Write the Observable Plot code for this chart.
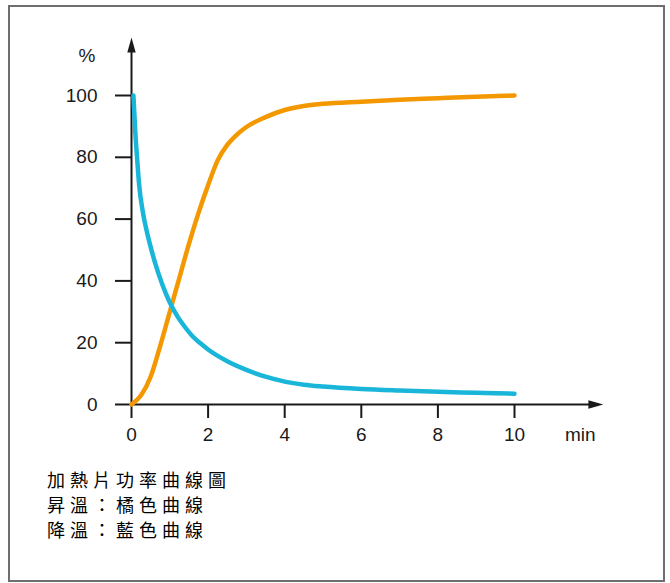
<!DOCTYPE html>
<html>
<head>
<meta charset="utf-8">
<script src="https://cdn.jsdelivr.net/npm/d3@7"></script>
<script src="https://cdn.jsdelivr.net/npm/@observablehq/plot@0.6"></script>
<style>
  html, body { margin: 0; padding: 0; background: #fff; }
  #frame { position: absolute; left: 8px; top: 5px; width: 657px; height: 577px; box-sizing: border-box; border: 2px solid #6e6e6e; }
  #chart { position: absolute; left: 0; top: 0; }
  #caption { position: absolute; left: 47px; top: 466.5px; font-family: "Noto Sans CJK TC", sans-serif; font-size: 18px; letter-spacing: 5px; line-height: 25px; color: #000; }
</style>
</head>
<body>
<div id="frame"></div>
<div id="chart"></div>
<div id="caption"></div>
<script>
// Data
const heatTime  = [0, 0.25, 0.5, 0.75, 1, 1.25, 1.5, 1.75, 2, 2.25, 2.5, 2.75, 3, 3.5, 4, 4.5, 5, 6, 7, 8, 9, 10];
const heatPower = [0, 3, 9, 19, 30, 41, 52, 62, 71, 79, 84, 87.3, 89.8, 93, 95.3, 96.6, 97.3, 98, 98.6, 99.1, 99.6, 100];
const coolTime  = [0.05, 0.1, 0.15, 0.2, 0.3, 0.4, 0.5, 0.6, 0.8, 1.0, 1.2, 1.4, 1.6, 1.8, 2.0, 2.5, 3.0, 3.5, 4.0, 4.5, 5, 6, 7, 8, 9, 10];
const coolPower = [100, 88, 79, 71, 62, 56, 51, 46.5, 39, 33, 28.5, 25, 22, 19.8, 17.8, 14, 11.2, 9.0, 7.4, 6.4, 5.8, 5.0, 4.5, 4.1, 3.8, 3.5];
const xTicks = [0, 2, 4, 6, 8, 10];
const yTicks = [0, 20, 40, 60, 80, 100];
const xAxisEnd = 12.32;
const yAxisEnd = 118.8;
const yUnit = "%";
const xUnit = "min";
const captionLines = ["加熱片功率曲線圖", "昇溫：橘色曲線", "降溫：藍色曲線"];

const orange = "#f39800";
const blue = "#19b6da";
const ink = "#1a1a1a";

const heat = heatTime.map((t, i) => ({t, p: heatPower[i]}));
const cool = coolTime.map((t, i) => ({t, p: coolPower[i]}));

// Narrow filled arrowhead, tip at origin, pointing up
const arrowHead = {
  draw(context) {
    context.moveTo(0, 0);
    context.lineTo(4.2, 15);
    context.lineTo(-4.2, 15);
    context.closePath();
  }
};

const chart = Plot.plot({
  width: 670,
  height: 450,
  marginLeft: 131,
  marginRight: 156,
  marginTop: 95,
  marginBottom: 46,
  style: {fontFamily: "Liberation Sans, Arial, sans-serif", fontSize: "19px", color: ink, background: "transparent", overflow: "visible"},
  x: {domain: [0, 10]},
  y: {domain: [0, 100]},
  marks: [
    Plot.axisX(xTicks, {anchor: "bottom", tickSize: 14, tickPadding: 9, strokeWidth: 2, label: null, tickFormat: d => d}),
    Plot.axisY(yTicks, {anchor: "left", tickSize: 16, tickPadding: 18, strokeWidth: 2, label: null, tickFormat: d => d}),
    Plot.ruleY([0], {x1: 0, x2: xAxisEnd - 0.2, stroke: ink, strokeWidth: 2}),
    Plot.ruleX([0], {y1: 0, y2: yAxisEnd - 2, stroke: ink, strokeWidth: 2}),
    Plot.dot([{x: 0, y: yAxisEnd}], {x: "x", y: "y", symbol: arrowHead, r: 5, fill: ink, stroke: null}),
    Plot.dot([{x: xAxisEnd, y: 0}], {x: "x", y: "y", symbol: arrowHead, r: 5, fill: ink, stroke: null, rotate: 90}),
    Plot.text([yUnit], {frameAnchor: "top-left", dx: -53, dy: -47, fill: ink, fontSize: 19}),
    Plot.text([xUnit], {frameAnchor: "bottom-right", dx: 81, dy: 36, fill: ink, fontSize: 19}),
    Plot.line(heat, {x: "t", y: "p", stroke: orange, strokeWidth: 4.5, curve: "monotone-x"}),
    Plot.line(cool, {x: "t", y: "p", stroke: blue, strokeWidth: 4.5, curve: "monotone-x"})
  ]
});
document.getElementById("chart").appendChild(chart);
document.getElementById("caption").innerHTML = captionLines.map(s => `<div>${s}</div>`).join("");
</script>
</body>
</html>
